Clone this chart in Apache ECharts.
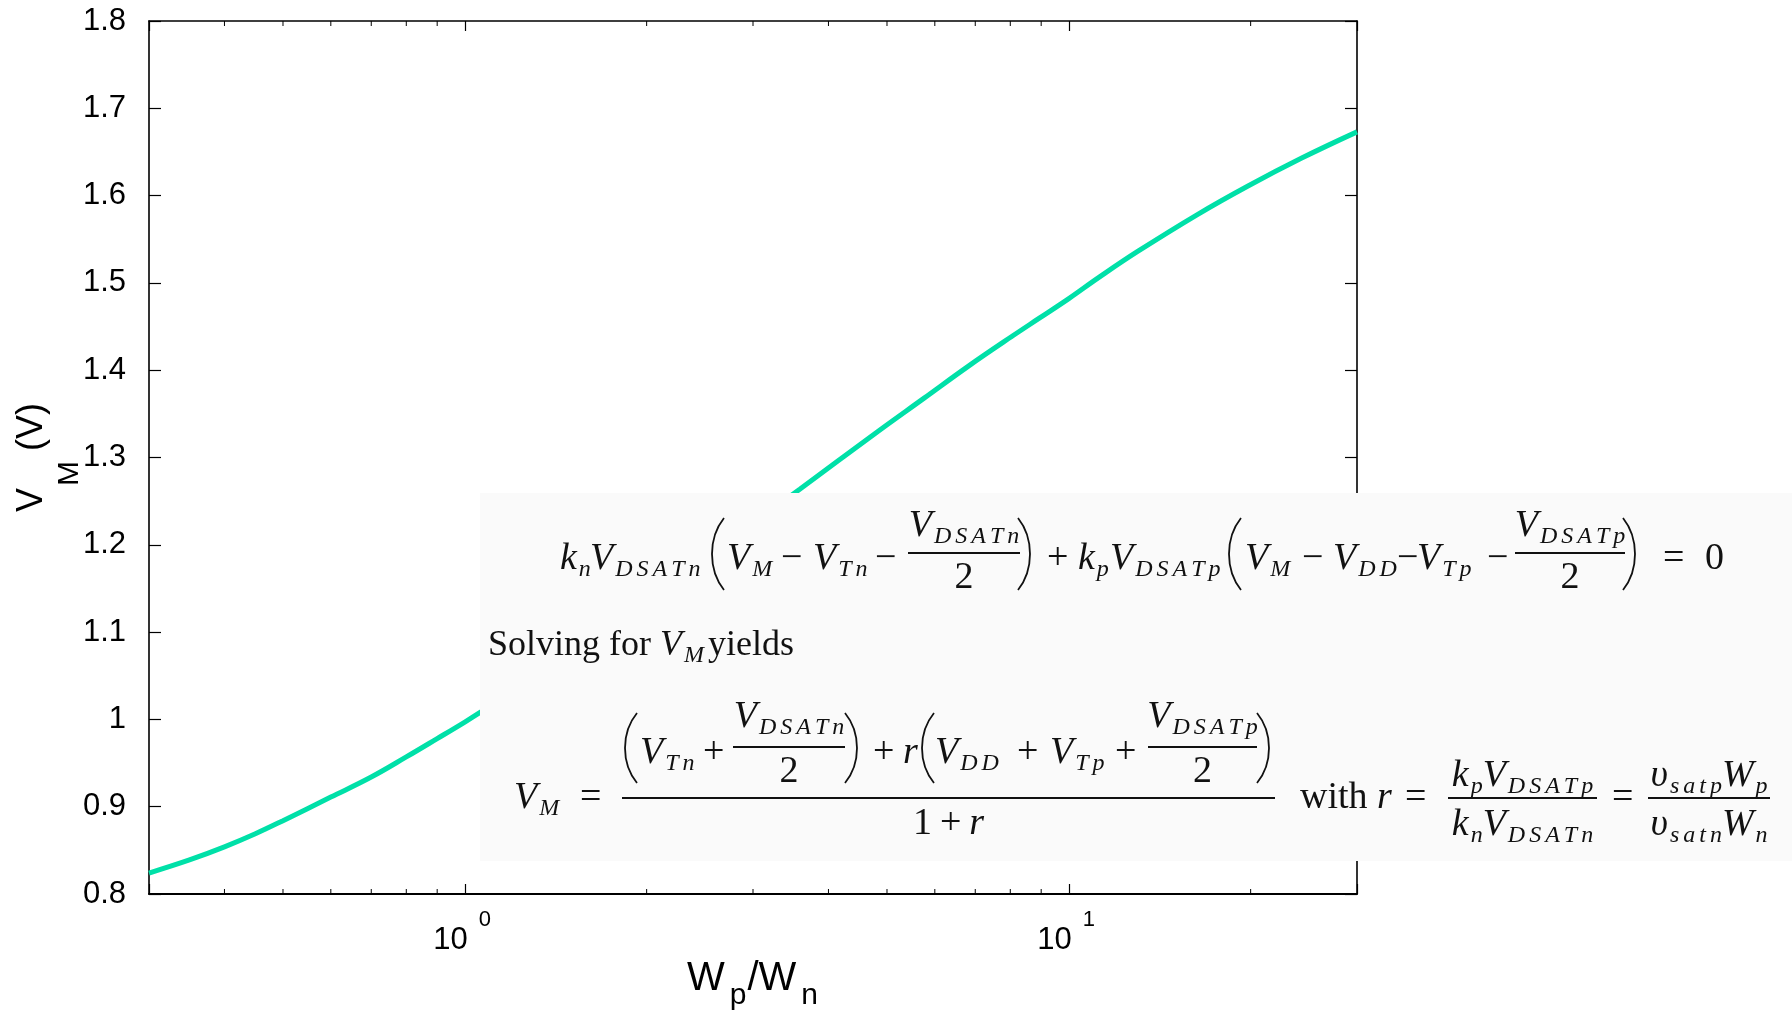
<!DOCTYPE html>
<html>
<head>
<meta charset="utf-8">
<title>VM vs Wp/Wn</title>
<script src="https://cdn.jsdelivr.net/npm/echarts@6/dist/echarts.min.js"></script>
<style>
  html, body { margin: 0; padding: 0; background: #fff; }
  #main { width: 1792px; height: 1011px; }
</style>
</head>
<body>
<div id="main"></div>
<script>
// switching threshold V_M against the sizing ratio Wp/Wn
var ratioWpWn = [0.3, 0.35, 0.4, 0.45, 0.5, 0.6, 0.7, 0.8, 0.9, 1.0, 1.06, 1.25, 1.5, 2.0, 2.5, 3.0,
                 3.59, 4.81, 5.76, 6.83, 8.1, 8.91, 10, 11.2, 13.0, 16.3, 19.8, 24.3, 30];
var switchVM  = [0.824, 0.839, 0.854, 0.869, 0.884, 0.911, 0.934, 0.957, 0.978, 0.997, 1.008, 1.040, 1.078, 1.138, 1.185, 1.225,
                 1.264, 1.329, 1.368, 1.405, 1.440, 1.459, 1.482, 1.506, 1.536, 1.578, 1.611, 1.643, 1.673];

var xMin = 0.3, xMax = 30;
var yMin = 0.8, yMax = 1.8, yStep = 0.1;
// decade labels 10^k and minor log ticks (2..9 x decade)
var decadeTicks = [1, 10];
var decadeExp = ['0', '1'];
var minorTicksX = [0.4, 0.5, 0.6, 0.7, 0.8, 0.9, 2, 3, 4, 5, 6, 7, 8, 9, 20];

var SANS = '"Liberation Sans", Arial, sans-serif';
var SERIF = '"Liberation Serif", "Times New Roman", serif';
var INK = '#111';

// ---- equation box helpers (text measured with a canvas) ----
var mctx = document.createElement('canvas').getContext('2d');
function fontStr(size, ital) { return (ital ? 'italic ' : '') + size + 'px ' + SERIF; }
function tw(s, size, ital) { mctx.font = fontStr(size, ital); return mctx.measureText(s).width; }

var eqEls = [];
function put(x, yb, s, size, ital) {
  eqEls.push({
    type: 'text', z: 101, silent: true, x: x, y: yb - 0.3375 * size,
    style: { text: s, font: fontStr(size, ital), fill: INK, align: 'left', verticalAlign: 'middle' }
  });
}
// row = list of tokens: ['i', base, sub] italic, ['r', text] roman, ['g', px] gap
function runRow(x, yb, row, draw, fs) {
  fs = fs || 38;
  row.forEach(function (t) {
    if (t[0] === 'g') { x += t[1]; return; }
    var ital = t[0] === 'i';
    if (draw) put(x, yb, t[1], fs, ital);
    x += tw(t[1], fs, ital);
    if (t[2]) {
      x += 2;
      for (var i = 0; i < t[2].length; i++) {
        if (draw) put(x, yb + 6, t[2][i], 24, true);
        x += tw(t[2][i], 24, true) + 4;
      }
      x -= 4;
    }
  });
  return x;
}
function row(x, yb, r, fs) { return runRow(x, yb, r, true, fs); }
function center(xl, xr, yb, r) { row((xl + xr - runRow(0, 0, r, false)) / 2, yb, r); }
function bar(x1, x2, y) {
  eqEls.push({ type: 'line', z: 101, silent: true, shape: { x1: x1, y1: y, x2: x2, y2: y },
    style: { stroke: INK, lineWidth: 2.2 } });
}
function paren(x, top, bot, left) {
  var w = 14, h = bot - top;
  var xe = left ? x + w : x, xc = left ? x - 2 : x + w + 2;
  eqEls.push({ type: 'bezierCurve', z: 101, silent: true,
    shape: { x1: xe, y1: top, x2: xe, y2: bot, cpx1: xc, cpy1: top + h * 0.28, cpx2: xc, cpy2: bot - h * 0.28 },
    style: { stroke: INK, lineWidth: 1.8, fill: null } });
}

// light panel that hides part of the plot
eqEls.push({ type: 'rect', z: 100, silent: true, shape: { x: 480, y: 493, width: 1312, height: 368 },
  style: { fill: '#fafafa' } });

// line 1
var B1 = 572;
row(560, B1, [['i', 'k', 'n']]);
row(590, B1, [['i', 'V', 'DSATn']]);
paren(710, 518, 590, true);
row(727, B1, [['i', 'V', 'M']]);
row(781, B1, [['r', '\u2212']]);
row(813, B1, [['i', 'V', 'Tn']]);
row(875, B1, [['r', '\u2212']]);
bar(908, 1020, 553);
center(908, 1020, 539, [['i', 'V', 'DSATn']]);
center(908, 1020, 591, [['r', '2']]);
paren(1018, 518, 590, false);
row(1047, B1, [['r', '+']]);
row(1078, B1, [['i', 'k', 'p']]);
row(1110, B1, [['i', 'V', 'DSATp']]);
paren(1227, 518, 590, true);
row(1245, B1, [['i', 'V', 'M']]);
row(1302, B1, [['r', '\u2212']]);
row(1333, B1, [['i', 'V', 'DD']]);
row(1397, B1, [['r', '\u2212']]);
row(1417, B1, [['i', 'V', 'Tp']]);
row(1487, B1, [['r', '\u2212']]);
bar(1515, 1625, 553);
center(1515, 1625, 539, [['i', 'V', 'DSATp']]);
center(1515, 1625, 591, [['r', '2']]);
paren(1623, 518, 590, false);
row(1663, B1, [['r', '=']]);
row(1705, B1, [['r', '0']]);

// line 2
row(488, 658, [['r', 'Solving for '], ['i', 'V', 'M'], ['g', 4], ['r', 'yields']], 36);

// line 3
var B3 = 811, BN = 766;
row(514, B3, [['i', 'V', 'M']]);
row(580, B3, [['r', '=']]);
bar(622, 1275, 798);
paren(623, 713, 783, true);
row(640, BN, [['i', 'V', 'Tn']]);
row(703, BN, [['r', '+']]);
bar(733, 845, 747);
center(733, 845, 730, [['i', 'V', 'DSATn']]);
center(733, 845, 785, [['r', '2']]);
paren(845, 713, 783, false);
row(873, BN, [['r', '+']]);
row(903, BN, [['i', 'r']]);
paren(920, 713, 783, true);
row(935, BN, [['i', 'V', 'DD']]);
row(1017, BN, [['r', '+']]);
row(1050, BN, [['i', 'V', 'Tp']]);
row(1115, BN, [['r', '+']]);
bar(1148, 1257, 747);
center(1148, 1257, 730, [['i', 'V', 'DSATp']]);
center(1148, 1257, 785, [['r', '2']]);
paren(1257, 713, 783, false);
center(622, 1275, 837, [['r', '1'], ['g', 8], ['r', '+'], ['g', 8], ['i', 'r']]);
row(1300, B3, [['r', 'with']]);
row(1377, B3, [['i', 'r']]);
row(1405, B3, [['r', '=']]);
bar(1448, 1597, 798);
center(1448, 1597, 789, [['i', 'k', 'p'], ['i', 'V', 'DSATp']]);
center(1448, 1597, 838, [['i', 'k', 'n'], ['i', 'V', 'DSATn']]);
row(1612, B3, [['r', '=']]);
bar(1648, 1770, 798);
center(1648, 1770, 789, [['i', '\u03C5', 'satp'], ['i', 'W', 'p']]);
center(1648, 1770, 838, [['i', '\u03C5', 'satn'], ['i', 'W', 'n']]);

// ---- chart ----
var axisLine = { show: true, lineStyle: { color: '#000', width: 1.6 } };
var majorTick = { show: true, inside: true, length: 10, lineStyle: { color: '#000', width: 1.2 } };
var yTick = { show: true, inside: true, length: 12, lineStyle: { color: '#000', width: 1.2 } };

var chart = echarts.init(document.getElementById('main'));
var option = {
  backgroundColor: '#fff',
  animation: false,
  grid: { left: 149, right: 435, top: 21, bottom: 117, containLabel: false, outerBoundsMode: 'none' },
  xAxis: [
    {
      type: 'log', logBase: 10, min: xMin, max: xMax, position: 'bottom',
      name: '{w|W}{s|p}{w|/W}{s|n}', nameLocation: 'middle', nameGap: 65,
      nameTextStyle: {
        fontFamily: SANS, fontSize: 40,
        rich: {
          w: { fontFamily: SANS, fontSize: 40, lineHeight: 40, color: '#000', verticalAlign: 'top' },
          s: { fontFamily: SANS, fontSize: 30, lineHeight: 30, color: '#000', verticalAlign: 'top', padding: [22, 1, 0, 5] }
        }
      },
      axisLine: { show: true, lineStyle: { color: '#000', width: 2 } },
      axisTick: majorTick,
      axisLabel: { show: false },
      splitLine: { show: false }
    },
    {
      type: 'log', logBase: 10, min: xMin, max: xMax, position: 'top',
      axisLine: axisLine, axisTick: majorTick, axisLabel: { show: false }, splitLine: { show: false }
    }
  ],
  yAxis: [
    {
      type: 'value', min: yMin, max: yMax, interval: yStep, position: 'left',
      name: '{v|V}{m|M}{v| (V)}', nameLocation: 'middle', nameRotate: 90, nameGap: 99,
      nameMoveOverlap: false,
      nameTextStyle: {
        fontFamily: SANS, fontSize: 36,
        rich: {
          v: { fontFamily: SANS, fontSize: 36, lineHeight: 36, color: '#000', verticalAlign: 'top' },
          m: { fontFamily: SANS, fontSize: 30, lineHeight: 30, color: '#000', verticalAlign: 'top', padding: [41, 0, 0, 2] }
        }
      },
      axisLine: axisLine, axisTick: yTick,
      axisLabel: { margin: 23, fontFamily: SANS, fontSize: 31, color: '#000' },
      splitLine: { show: false }
    },
    {
      type: 'value', min: yMin, max: yMax, interval: yStep, position: 'right',
      axisLine: axisLine, axisTick: yTick, axisLabel: { show: false }, splitLine: { show: false }
    }
  ],
  graphic: { elements: eqEls },
  series: [
    {
      name: 'VM', type: 'line', xAxisIndex: 0, yAxisIndex: 0,
      data: ratioWpWn.map(function (x, i) { return [x, switchVM[i]]; }),
      showSymbol: false, smooth: 0.4, z: 3,
      lineStyle: { color: '#00e0a8', width: 5 }
    },
    {
      // minor log ticks, bottom and top, placed through the axis scale
      type: 'custom', xAxisIndex: 0, yAxisIndex: 0, silent: true, clip: false, z: 4,
      data: minorTicksX.map(function (v) { return [v, yMin]; }),
      renderItem: function (params, api) {
        var v = api.value(0);
        var b = api.coord([v, yMin]), t = api.coord([v, yMax]);
        return {
          type: 'group',
          children: [
            { type: 'line', shape: { x1: b[0], y1: b[1], x2: b[0], y2: b[1] - 5 }, style: { stroke: '#000', lineWidth: 1 } },
            { type: 'line', shape: { x1: t[0], y1: t[1], x2: t[0], y2: t[1] + 5 }, style: { stroke: '#000', lineWidth: 1 } }
          ]
        };
      }
    },
    {
      // decade labels "10" with raised exponent, anchored at the axis ticks
      type: 'custom', xAxisIndex: 0, yAxisIndex: 0, silent: true, clip: false, z: 5,
      data: decadeTicks.map(function (v, i) { return [v, yMin, i]; }),
      renderItem: function (params, api) {
        var p = api.coord([api.value(0), yMin]);
        var exp = decadeExp[api.value(2)];
        return {
          type: 'group',
          children: [
            { type: 'text', x: p[0] + 3, y: p[1] + 57 - 0.3465 * 31,
              style: { text: '10', font: '31px ' + SANS, fill: '#000', align: 'right', verticalAlign: 'middle' } },
            { type: 'text', x: p[0] + 14, y: p[1] + 34 - 0.3465 * 22,
              style: { text: exp, font: '22px ' + SANS, fill: '#000', align: 'left', verticalAlign: 'middle' } }
          ]
        };
      }
    }
  ]
};
chart.setOption(option);
</script>
</body>
</html>
